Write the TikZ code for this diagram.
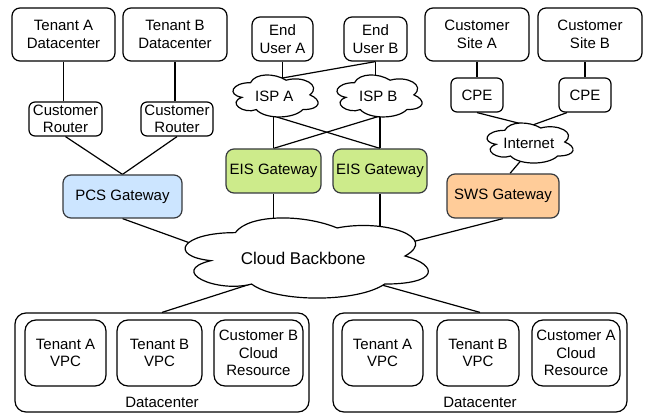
\documentclass[tikz,border=0pt]{standalone}
\usepackage{fontspec}
\setmainfont{Liberation Sans}
\usetikzlibrary{calc,backgrounds}
\definecolor{pcsfill}{HTML}{CCE5FF}
\definecolor{eisfill}{HTML}{CDEB8B}
\definecolor{swsfill}{HTML}{FFCC99}
\definecolor{gwline}{HTML}{36393D}
\newcommand\drawcloud[4]{%
  \begin{scope}[shift={(#1-0.5*#3,#2-0.5*#4)},xscale=#3,yscale=#4]
    \draw[cloudline] (0.25,0.25) .. controls (0.05,0.25) and (0,0.5) .. (0.16,0.55)
      .. controls (0,0.66) and (0.18,0.9) .. (0.31,0.8)
      .. controls (0.4,1) and (0.7,1) .. (0.8,0.8)
      .. controls (1,0.8) and (1,0.6) .. (0.875,0.5)
      .. controls (1,0.3) and (0.8,0.1) .. (0.625,0.2)
      .. controls (0.5,0.05) and (0.3,0.05) .. (0.25,0.25) -- cycle;
  \end{scope}}
\begin{document}
\begin{tikzpicture}[x=1pt,y=-1pt,
  every node/.style={font=\fontsize{15}{17.5}\selectfont, inner sep=0pt, align=center},
  box/.style={draw=black, line width=1.2pt, rounded corners=8pt, fill=white},
  dcbox/.style={draw=black, line width=1.2pt, rounded corners=11pt, fill=white},
  gw/.style={draw=gwline, line width=1.2pt, rounded corners=8pt},
  cloudline/.style={draw=black, fill=white, line width=1.2pt},
  link/.style={draw=black, line width=1.2pt},
  sz/.style 2 args={minimum width=#1pt, minimum height=#2pt}]
\useasboundingbox (0,0) rectangle (645,414);

% top-left
\node[box, sz={103}{53}] (tad) at (63.5,34.5) {Tenant A\\Datacenter};
\node[box, sz={104}{53}] (tbd) at (175,34.5) {Tenant B\\Datacenter};
\node[box, sz={73}{34}, rounded corners=6pt] (cra) at (65.5,119) {Customer\\Router};
\node[box, sz={72}{34}, rounded corners=6pt] (crb) at (177,119) {Customer\\Router};
\node[gw, fill=pcsfill, sz={119}{43}] (pcs) at (122.5,196.5) {PCS Gateway};

% middle
\node[box, sz={61}{44}] (eua) at (282.5,39) {End\\User A};
\node[box, sz={63}{44}] (eub) at (375.5,39) {End\\User B};
\node[gw, fill=eisfill, sz={95}{44}] (eis1) at (273.5,171) {EIS Gateway};
\node[gw, fill=eisfill, sz={94}{44}] (eis2) at (380,171) {EIS Gateway};

% right
\node[box, sz={104}{53}] (csa) at (477,34.5) {Customer\\Site A};
\node[box, sz={104}{53}] (csb) at (590,34.5) {Customer\\Site B};
\node[box, sz={52}{34}, rounded corners=6pt] (cpea) at (477,95) {CPE};
\node[box, sz={52}{34}, rounded corners=6pt] (cpeb) at (585,95) {CPE};
\node[gw, fill=swsfill, sz={112}{44}] (sws) at (503,196) {SWS Gateway};

% datacenters
\node[dcbox, sz={294}{99}] (dc1) at (162,362.5) {};
\node (dc1lab) at (162,402) {Datacenter};
\node[dcbox, sz={81}{66}] (tav1) at (65.5,353) {Tenant A\\VPC};
\node[dcbox, sz={85}{66}] (tbv1) at (159.5,353) {Tenant B\\VPC};
\node[dcbox, sz={89}{66}] (cbr) at (258.5,353) {Customer B\\Cloud\\Resource};

\node[dcbox, sz={294}{99}] (dc2) at (480,362.5) {};
\node (dc2lab) at (480,402) {Datacenter};
\node[dcbox, sz={81}{66}] (tav2) at (382.5,353) {Tenant A\\VPC};
\node[dcbox, sz={82}{66}] (tbv2) at (478,353) {Tenant B\\VPC};
\node[dcbox, sz={88}{66}] (car) at (576,353) {Customer A\\Cloud\\Resource};

% clouds
\drawcloud{274.3}{94.9}{95}{49}
\node (ispA) at (274.3,96) {ISP A};
\drawcloud{378.3}{94.9}{95}{49}
\node (ispB) at (378.3,96) {ISP B};
\drawcloud{528.8}{142}{96}{46.7}
\node (inet) at (528.8,143) {Internet};
\drawcloud{303.2}{256}{271.5}{93.5}
\node[font=\fontsize{17}{20}\selectfont] (bb) at (303.2,258) {Cloud Backbone};

% connector end points inside the clouds
\coordinate (ispAtop) at (270,80.2);
\coordinate (ispAbot) at (273.5,116);
\coordinate (ispBbot) at (380,116);
\coordinate (inetTop) at (530,126);
\coordinate (inetBot) at (521,160.5);
\coordinate (bbL) at (220,253.8);
\coordinate (bbR) at (400,245);
\coordinate (bbBL) at (270,277.8);
\coordinate (bbBR) at (360,278.9);

\begin{pgfonlayer}{background}
\draw[link] (tad.south) -- (tad.south |- cra.north);
\draw[link] (tbd.south) -- (tbd.south |- crb.north);
\draw[link] (cra.south) -- (pcs.north);
\draw[link] (crb.south) -- (pcs.north);
\draw[link] (pcs.south) -- (bbL);
\draw[link] (eua.south) -- (eua.south |- ispA.center);
\draw[link] (eub.south) -- (eub.south |- ispB.center);
\draw[link] (eub.south) -- (ispAtop);
\draw[link] (eis1.north) -- (eis1.north |- ispA.center);
\draw[link] (eis2.north) -- (eis2.north |- ispB.center);
\draw[link] (eis1.north) -- (ispBbot);
\draw[link] (eis2.north) -- (ispAbot);
\draw[link] (eis1.south) -- (eis1.south |- bb.center);
\draw[link] (eis2.south) -- (eis2.south |- bb.center);
\draw[link] (csa.south) -- (csa.south |- cpea.north);
\draw[link] (cpeb.north) -- (cpeb.north |- csb.south);
\draw[link] (cpea.south) -- (inetTop);
\draw[link] ($(cpeb.south)+(-18,0)$) -- (inetTop);
\draw[link] (inetBot) -- ($(sws.north)+(7,0)$);
\draw[link] (sws.south) -- (bbR);
\draw[link] (bbBL) -- (dc1.north);
\draw[link] (bbBR) -- (dc2.north);
\end{pgfonlayer}
\end{tikzpicture}
\end{document}
